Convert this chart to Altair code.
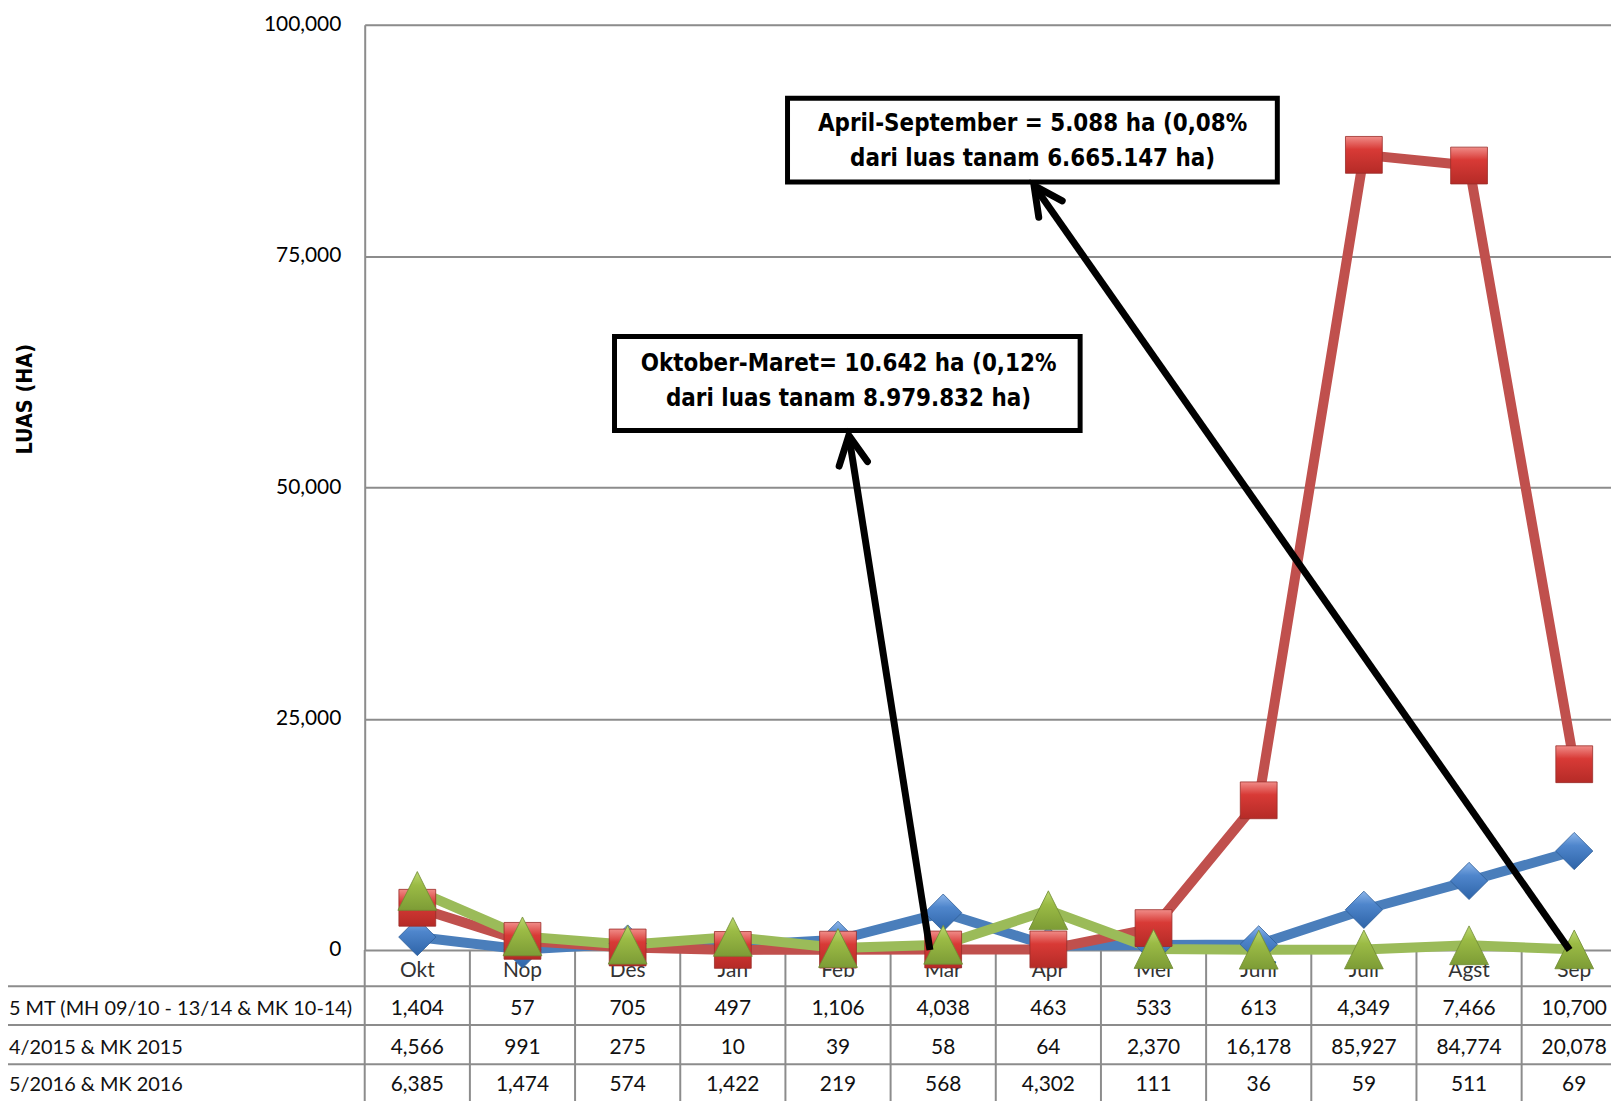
import math
import altair as alt
import pandas as pd

# ---------------- data ----------------
months = ["Okt", "Nop", "Des", "Jan", "Feb", "Mar", "Apr", "Mei", "Juni", "Juli", "Agst", "Sep"]
series_names = ["5 MT (MH 09/10 - 13/14 & MK 10-14)", "4/2015 & MK 2015", "5/2016 & MK 2016"]
s_avg = [1404, 57, 705, 497, 1106, 4038, 463, 533, 613, 4349, 7466, 10700]
s_2015 = [4566, 991, 275, 10, 39, 58, 64, 2370, 16178, 85927, 84774, 20078]
s_2016 = [6385, 1474, 574, 1422, 219, 568, 4302, 111, 36, 59, 511, 69]
y_ticks = [0, 25000, 50000, 75000, 100000]
y_title = "LUAS (HA)"

note1_lines = ["Oktober-Maret= 10.642 ha (0,12%", "dari luas tanam 8.979.832 ha)"]
note2_lines = ["April-September = 5.088 ha (0,08%", "dari luas tanam 6.665.147 ha)"]

# annotation anchors in data units (month index, hectares)
note1_box = dict(x=1.875, x2=6.302, y=66300, y2=56150)
note1_text = dict(x=4.10, y=[63300, 59550])
note2_box = dict(x=3.52, x2=8.177, y=92050, y2=83000)
note2_text = dict(x=5.85, y=[89300, 85500])
arrow1 = dict(x=4.874, y=0, x2=4.103, y2=55600)
arrow2 = dict(x=10.956, y=0, x2=5.864, y2=82600)

# ---------------- layout ----------------
COLW = 105.7
RANGE_W = COLW * 12
PAD_L, PAD_T, PAD_B = 358.5, 14.0, 149.0
W = 1611 - PAD_L
H = 930.0
YMAX = 100000

colors = ["#4A7EBB", "#C0504D", "#9BBB59"]
TABLE_FONT = "Lato"
NARROW = "Liberation Sans Narrow, DejaVu Sans Condensed, Arial Narrow, sans-serif"

rows = []
for si, (name, vals) in enumerate(zip(series_names, [s_avg, s_2015, s_2016])):
    for i, (m, v) in enumerate(zip(months, vals)):
        rows.append({"idx": i, "month": m, "series": name, "sid": si, "value": v})
df = pd.DataFrame(rows)
mdf = pd.DataFrame({"idx": list(range(12)), "month": months})

xs = alt.Scale(domain=[-0.5, 11.5], range=[0, RANGE_W])
ys = alt.Scale(domain=[0, YMAX], range=[H, 0])
X = alt.X("idx:Q", scale=xs, axis=None)

# axis + gridlines
base_axis = alt.Chart(pd.DataFrame({"v": y_ticks})).mark_rule(opacity=0).encode(
    y=alt.Y(
        "v:Q",
        scale=ys,
        axis=alt.Axis(
            values=y_ticks,
            format=",.0f",
            title=y_title,
            titleFont=NARROW,
            titleFontWeight="bold",
            titleFontSize=21.5,
            titleColor="#000000",
            titleAngle=270,
            titleX=-341,
            titleY=376,
            titleAlign="center",
            titleBaseline="middle",
            labelFont=TABLE_FONT,
            labelFontSize=21,
            labelColor="#000000",
            labelPadding=24,
            ticks=False,
            domainColor="#8C8C8C",
            domainWidth=2,
            grid=True,
            gridColor="#8C8C8C",
            gridWidth=2,
        ),
    )
)

# table lines
row_lines = pd.DataFrame({"py": [H + 36.3, H + 75.3, H + 114.7]})
table_h = alt.Chart(row_lines).mark_rule(color="#8C8C8C", strokeWidth=2).encode(
    y=alt.Y("py:Q", scale=None),
    x=alt.value(-PAD_L),
    x2=alt.value(W),
)
bounds = pd.DataFrame({"b": [i - 0.5 for i in range(13)]})
table_v = alt.Chart(bounds).mark_rule(color="#8C8C8C", strokeWidth=2).encode(
    x=alt.X("b:Q", scale=xs, axis=None),
    y=alt.value(H),
    y2=alt.value(H + PAD_B + 10),
)

header = alt.Chart(mdf).mark_text(font=TABLE_FONT, fontSize=21, color="#333333", baseline="middle").encode(
    x=X, y=alt.value(H + 21), text="month:N"
)

row_y = [H + 59, H + 98, H + 136]
cells = []
labels = []
for si, name in enumerate(series_names):
    sub = df[df.sid == si]
    cells.append(
        alt.Chart(sub).mark_text(font=TABLE_FONT, fontSize=21, color="#111111", baseline="middle").encode(
            x=X, y=alt.value(row_y[si]), text=alt.Text("value:Q", format=",")
        )
    )
    labels.append(
        alt.Chart(pd.DataFrame({"t": [name]})).mark_text(
            font=TABLE_FONT, fontSize=20, color="#111111", align="left", baseline="middle"
        ).encode(x=alt.value(-PAD_L + 1), y=alt.value(row_y[si]), text="t:N")
    )

# series lines
lines = []
for si in range(3):
    sub = df[df.sid == si]
    lines.append(
        alt.Chart(sub).mark_line(color=colors[si], strokeWidth=10, strokeJoin="round").encode(
            x=X, y=alt.Y("value:Q", scale=ys), order="idx:Q"
        )
    )

def grad(c0, c1, c2):
    return alt.Gradient(
        gradient="linear",
        x1=0, x2=0, y1=0, y2=1,
        stops=[
            alt.GradientStop(color=c0, offset=0),
            alt.GradientStop(color=c1, offset=0.35),
            alt.GradientStop(color=c2, offset=1),
        ],
    )

marker_specs = [
    dict(shape="diamond", size=1400, fill=grad("#8DB6EA", "#4F86CC", "#2E64A8"), stroke="#2E5E98"),
    dict(shape="square", size=1369, fill=grad("#F08C88", "#D83A36", "#B52B27"), stroke="#9A2C29"),
    dict(shape="M0,-1L1,1L-1,1Z", size=1521, fill=grad("#BCD870", "#9BBB45", "#7D9C36"), stroke="#6F8A32"),
]
markers = []
for si in range(3):
    sub = df[df.sid == si]
    sp = marker_specs[si]
    markers.append(
        alt.Chart(sub).mark_point(
            shape=sp["shape"], size=sp["size"], filled=True, fill=sp["fill"],
            stroke=sp["stroke"], strokeWidth=0.8, opacity=1, fillOpacity=1
        ).encode(x=X, y=alt.Y("value:Q", scale=ys))
    )

# annotations
def box(b):
    d = pd.DataFrame([{"x": b["x"], "x2": b["x2"], "y": b["y"], "y2": b["y2"]}])
    return alt.Chart(d).mark_rect(fill="white", stroke="black", strokeWidth=5).encode(
        x=alt.X("x:Q", scale=xs, axis=None), x2="x2:Q",
        y=alt.Y("y:Q", scale=ys), y2="y2:Q",
    )

def note_text(t, lines_):
    d = pd.DataFrame({"x": [t["x"]] * len(lines_), "y": t["y"], "t": lines_})
    return alt.Chart(d).mark_text(font=NARROW, fontWeight="bold", fontSize=24, color="#000000", baseline="middle").encode(
        x=alt.X("x:Q", scale=xs, axis=None), y=alt.Y("y:Q", scale=ys), text="t:N"
    )

def arrow(a):
    d = pd.DataFrame([a])
    shaft = alt.Chart(d).mark_rule(color="black", strokeWidth=7).encode(
        x=alt.X("x:Q", scale=xs, axis=None), x2="x2:Q",
        y=alt.Y("y:Q", scale=ys), y2="y2:Q",
    )
    dx = (a["x2"] - a["x"]) * COLW
    dy = -(a["y2"] - a["y"]) * H / YMAX
    ang = math.degrees(math.atan2(dx, -dy)) % 360
    hd = pd.DataFrame([{"x": a["x2"], "y": a["y2"], "ang": ang}])
    head = alt.Chart(hd).mark_point(
        shape="M-0.45,0.9L0,0L0.45,0.9", size=4096, filled=False, stroke="black",
        strokeWidth=7, strokeCap="round", strokeJoin="miter", opacity=1
    ).encode(
        x=alt.X("x:Q", scale=xs, axis=None), y=alt.Y("y:Q", scale=ys),
        angle=alt.Angle("ang:Q", scale=None),
    )
    return [shaft, head]

layers = (
    [base_axis, table_h, table_v, header] + cells + labels + lines + markers
    + [box(note1_box), note_text(note1_text, note1_lines), box(note2_box), note_text(note2_text, note2_lines)]
    + arrow(arrow1) + arrow(arrow2)
)

chart = alt.layer(*layers).properties(
    width=W,
    height=H,
    autosize=alt.AutoSizeParams(type="none"),
    padding={"left": PAD_L, "top": PAD_T, "right": 0, "bottom": PAD_B},
).configure_view(stroke=None).configure(background="white")

chart.save("out.html", embed_options={"renderer": "svg", "actions": False})
